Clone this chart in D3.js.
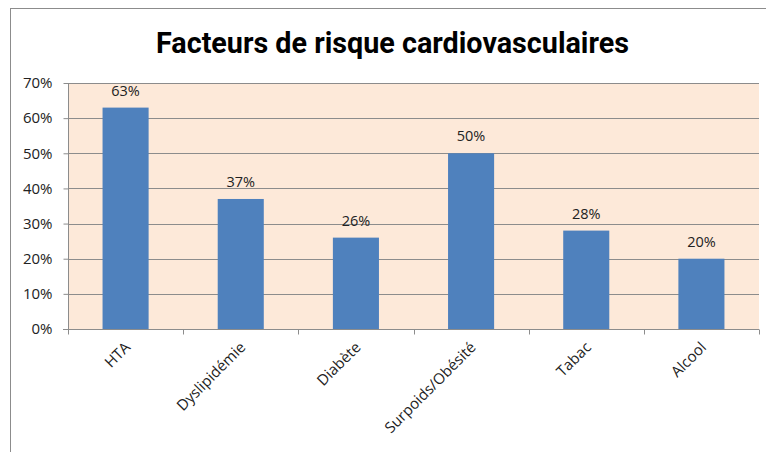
<!DOCTYPE html>
<html>
<head>
<meta charset="utf-8">
<script src="https://cdn.jsdelivr.net/npm/d3@7"></script>
<style>
  body { margin: 0; background: #fff; }
  svg { display: block; }
</style>
</head>
<body>
<div id="chart"></div>
<script>
// data
const categories = ["HTA", "Dyslipidémie", "Diabète", "Surpoids/Obésité", "Tabac", "Alcool"];
const values = [0.63, 0.37, 0.26, 0.50, 0.28, 0.20];
const valueLabels = ["63%", "37%", "26%", "50%", "28%", "20%"];
const yTicks = [0, 0.1, 0.2, 0.3, 0.4, 0.5, 0.6, 0.7];

const width = 766, height = 452;
const margin = {top: 83, right: 7, bottom: 123, left: 68};
const font = "Open Sans, Liberation Sans, sans-serif";

const svg = d3.select("#chart")
    .append("svg")
    .attr("width", width)
    .attr("height", height);

// outer chart frame
svg.append("rect")
    .attr("x", 10.5).attr("y", 8.5)
    .attr("width", 800).attr("height", 500)
    .attr("fill", "#fff")
    .attr("stroke", "#8c8c8c");

svg.append("text")
    .attr("x", 392.5).attr("y", 53)
    .attr("text-anchor", "middle")
    .attr("font-family", "Roboto, Open Sans, sans-serif")
    .attr("font-weight", "bold")
    .attr("font-size", 29)
    .attr("textLength", 473)
    .attr("lengthAdjust", "spacingAndGlyphs")
    .attr("fill", "#000")
    .text("Facteurs de risque cardiovasculaires");

const x = d3.scaleBand()
    .domain(categories)
    .range([margin.left, width - margin.right])
    .paddingInner(0.6)
    .paddingOuter(0.3);

const y = d3.scaleLinear()
    .domain([0, 0.7])
    .range([height - margin.bottom, margin.top]);

const plot = svg.append("g");

plot.append("rect")
    .attr("x", margin.left)
    .attr("y", margin.top)
    .attr("width", width - margin.right - margin.left)
    .attr("height", height - margin.bottom - margin.top)
    .attr("fill", "#fde9d9");

// gridlines
plot.selectAll("line.grid")
    .data(yTicks.filter(d => d > 0))
    .join("line")
    .attr("class", "grid")
    .attr("x1", margin.left).attr("x2", width - margin.right)
    .attr("y1", d => Math.round(y(d)) + 0.5)
    .attr("y2", d => Math.round(y(d)) + 0.5)
    .attr("stroke", "#8c8c8c");

// bars
plot.selectAll("rect.bar")
    .data(values)
    .join("rect")
    .attr("class", "bar")
    .attr("x", (d, i) => x(categories[i]))
    .attr("width", x.bandwidth())
    .attr("y", d => y(d))
    .attr("height", d => y(0) - y(d))
    .attr("fill", "#4f81bd");

// value labels
plot.selectAll("text.val")
    .data(values)
    .join("text")
    .attr("class", "val")
    .attr("x", (d, i) => x(categories[i]) + x.bandwidth() / 2)
    .attr("y", d => y(d) - 12)
    .attr("text-anchor", "middle")
    .attr("font-family", font)
    .attr("font-size", 14.5)
    .attr("fill", "#222")
    .text((d, i) => valueLabels[i]);

// y axis
const yAxis = svg.append("g")
    .attr("transform", `translate(${margin.left + 0.5},0)`)
    .call(d3.axisLeft(y).tickValues(yTicks).tickFormat(d3.format(".0%")).tickSize(5).tickPadding(11));
yAxis.select(".domain").attr("stroke", "#8c8c8c").attr("d", `M0,${y(0.7)}V${y(0)}`);
yAxis.selectAll(".tick line").attr("stroke", "#8c8c8c");
yAxis.selectAll(".tick text")
    .attr("font-family", font)
    .attr("font-size", 15)
    .attr("fill", "#222");

// x axis with ticks at category boundaries
const xAxisG = svg.append("g")
    .attr("transform", `translate(0,${Math.round(y(0)) + 0.5})`);
xAxisG.append("line")
    .attr("x1", margin.left - 5).attr("x2", width - margin.right)
    .attr("stroke", "#8c8c8c");
const bounds = d3.range(categories.length + 1).map(i => margin.left + i * (width - margin.right - margin.left) / categories.length);
xAxisG.selectAll("line.tk")
    .data(bounds)
    .join("line")
    .attr("class", "tk")
    .attr("x1", d => Math.round(d) + 0.5).attr("x2", d => Math.round(d) + 0.5)
    .attr("y1", 0).attr("y2", 5)
    .attr("stroke", "#8c8c8c");

xAxisG.selectAll("text")
    .data(categories)
    .join("text")
    .attr("transform", d => `translate(${x(d) + x.bandwidth() / 2 + 2},${15}) rotate(-45)`)
    .attr("text-anchor", "end")
    .attr("dy", "0.35em")
    .attr("font-family", font)
    .attr("font-size", 15)
    .attr("fill", "#222")
    .text(d => d);
</script>
</body>
</html>
